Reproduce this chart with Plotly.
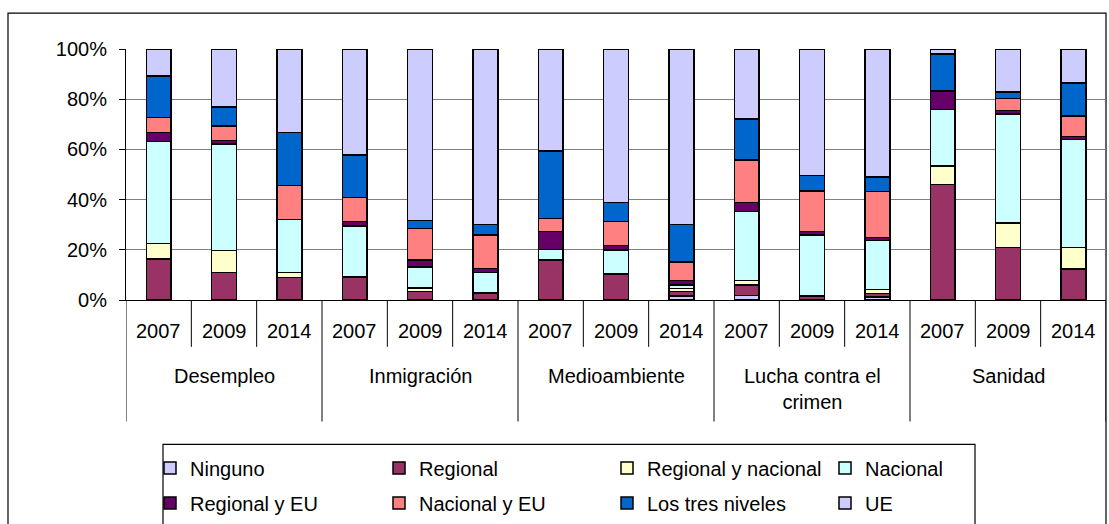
import plotly.graph_objects as go

# Topics and survey years (one bar per topic/year pair)
groups = ["Desempleo", "Inmigración", "Medioambiente", "Lucha contra el<br>crimen", "Sanidad"]
years = ["2007", "2009", "2014"]

# Share of answers per level of government (%), bars ordered topic by topic, years within topic
ninguno = [0, 0, 0, 0, 0, 0, 0, 0, 1.5, 1.7, 0, 1.2, 0, 0, 0]
regional = [16.3, 11.0, 9.0, 8.9, 3.4, 2.8, 15.9, 10.3, 1.9, 4.3, 1.6, 1.4, 46.2, 21.0, 12.3]
regional_nacional = [6.3, 8.8, 2.0, 0.5, 1.3, 0, 0, 0, 1.1, 1.7, 0, 1.6, 7.4, 9.7, 8.7]
nacional = [40.5, 42.4, 21.0, 20.1, 8.5, 8.2, 4.3, 9.7, 1.4, 27.6, 24.2, 19.4, 22.6, 43.5, 42.9]
regional_eu = [3.7, 1.3, 0, 1.8, 2.8, 1.6, 7.0, 1.8, 1.8, 3.5, 1.4, 1.3, 7.3, 1.3, 1.3]
nacional_eu = [6.0, 5.9, 13.6, 9.6, 12.4, 13.2, 5.3, 9.5, 7.5, 16.9, 16.2, 18.3, 0.3, 4.7, 8.2]
tres_niveles = [16.5, 7.5, 21.2, 16.9, 3.3, 4.2, 26.8, 7.5, 14.8, 16.5, 6.2, 5.7, 14.5, 2.6, 13.0]
ue = [10.7, 23.1, 33.2, 42.2, 68.3, 70.0, 40.7, 61.2, 70.0, 27.8, 50.4, 50.9, 2.0, 17.2, 13.6]

# y-axis ticks
y_ticks = [0, 20, 40, 60, 80, 100]
y_tick_labels = ["0%", "20%", "40%", "60%", "80%", "100%"]

series = [
    ("Ninguno", ninguno, "#CCCCFF"),
    ("Regional", regional, "#993366"),
    ("Regional y nacional", regional_nacional, "#FFFFCC"),
    ("Nacional", nacional, "#CCFFFF"),
    ("Regional y EU", regional_eu, "#660066"),
    ("Nacional y EU", nacional_eu, "#FF8080"),
    ("Los tres niveles", tres_niveles, "#0066CC"),
    ("UE", ue, "#CCCCFF"),
]

W, H = 1109, 524
PL, PR, PT, PB = 126, 3, 49, 223          # plot area margins in px
plot_w = W - PL - PR
plot_h = H - PT - PB
FONT = "Liberation Sans, Arial, sans-serif"
FS = 20


def px_x(px):
    return (px - PL) / plot_w


def px_y(py):
    return (H - PB - py) / plot_h


n_years = len(years)
n_bars = len(groups) * n_years
xpos = list(range(n_bars))

# legend columns (item widths)
col_widths = [184, 183, 173, 120]

fig = go.Figure()
for k, (name, vals, color) in enumerate(series):
    fig.add_trace(go.Bar(
        x=xpos, y=vals, name=name,
        marker=dict(color=color, line=dict(color="black", width=1.5)),
        width=0.38,
        legend="legend" if k < 4 else "legend2",
        legendwidth=col_widths[k % 4],
    ))

annotations = []
# year labels under each bar
for i in xpos:
    annotations.append(dict(
        x=i, y=px_y(332), xref="x", yref="paper", text=years[i % n_years],
        showarrow=False, xanchor="center", yanchor="middle",
        font=dict(family=FONT, size=FS, color="black"),
    ))
# topic labels under each group
for g, name in enumerate(groups):
    annotations.append(dict(
        x=g * n_years + (n_years - 1) / 2, y=px_y(364), xref="x", yref="paper",
        text=name, showarrow=False, xanchor="center", yanchor="top",
        font=dict(family=FONT, size=FS, color="black"),
    ))

shapes = []
# separators between bars and between topics on the category axis
for b in range(n_bars + 1):
    edge = b - 0.5
    bottom = 423 if b % n_years == 0 else 348
    shapes.append(dict(type="line", xref="x", yref="paper", x0=edge, x1=edge,
                       y0=0, y1=px_y(bottom), line=dict(color="black", width=1)))
# outer chart frame
shapes.append(dict(type="rect", xref="paper", yref="paper",
                   x0=px_x(8), x1=px_x(1106), y0=px_y(13), y1=px_y(560),
                   line=dict(color="black", width=1.2), fillcolor="rgba(0,0,0,0)", layer="below"))
# legend frame
shapes.append(dict(type="rect", xref="paper", yref="paper",
                   x0=px_x(163), x1=px_x(975), y0=px_y(446), y1=px_y(560),
                   line=dict(color="black", width=1.2), fillcolor="rgba(0,0,0,0)"))

legend_common = dict(
    orientation="h", xref="paper", yref="paper", x=px_x(150), xanchor="left", yanchor="top",
    traceorder="normal", bgcolor="rgba(0,0,0,0)", borderwidth=0,
    font=dict(family=FONT, size=FS, color="black"),
)

fig.update_layout(
    width=W, height=H,
    margin=dict(l=PL, r=PR, t=PT, b=PB, pad=0),
    barmode="stack", barnorm="percent",
    paper_bgcolor="white", plot_bgcolor="white",
    font=dict(family=FONT, size=FS, color="black"),
    xaxis=dict(range=[-0.5, n_bars - 0.5], showticklabels=False, ticks="",
               showgrid=False, zeroline=False, showline=True, linecolor="black", linewidth=1),
    yaxis=dict(range=[0, 100], tickmode="array", tickvals=y_ticks, ticktext=y_tick_labels,
               showgrid=True, gridcolor="#808080", gridwidth=1, zeroline=False,
               showline=True, linecolor="black", linewidth=1,
               ticks="outside", ticklen=6, tickcolor="black", ticklabelstandoff=8,
               tickfont=dict(family=FONT, size=FS, color="black")),
    legend=dict(legend_common, y=px_y(448.6)),
    legend2=dict(legend_common, y=px_y(483.6)),
    annotations=annotations,
    shapes=shapes,
    showlegend=True,
)

fig.write_html("out.html")
